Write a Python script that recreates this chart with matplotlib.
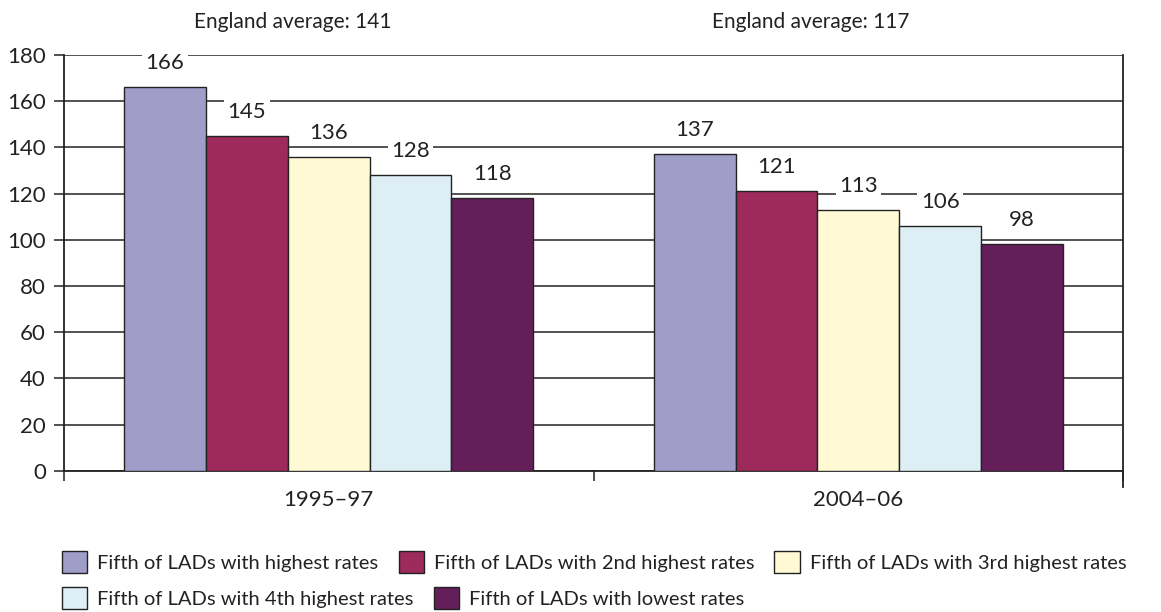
import numpy as np
import matplotlib
matplotlib.use('Agg')
import matplotlib.pyplot as plt
from matplotlib.patches import Patch

plt.rcParams['font.family'] = ['Lato', 'DejaVu Sans']

# Rates by fifth of local authority districts
periods = ['1995\u201397', '2004\u201306']
groups = ['Fifth of LADs with highest rates',
          'Fifth of LADs with 2nd highest rates',
          'Fifth of LADs with 3rd highest rates',
          'Fifth of LADs with 4th highest rates',
          'Fifth of LADs with lowest rates']
rates_1995 = [166, 145, 136, 128, 118]
rates_2004 = [137, 121, 113, 106, 98]
england_avg = [141, 117]

colours = ['#A09EC8', '#9C2A5B', '#FFF9D4', '#DDEEF5', '#641E5A']

fig = plt.figure(figsize=(11.61, 6.12), dpi=100)
ax = fig.add_axes([0.0551, 0.2309, 0.9122, 0.6792])

values = np.array([rates_1995, rates_2004])
x = np.arange(len(periods))
w = 0.1545
for i, g in enumerate(groups):
    bars = ax.bar(x + (i - 2) * w, values[:, i], w, color=colours[i],
                  edgecolor='#222222', linewidth=1.0, zorder=3, label=g)
    for b, v in zip(bars, values[:, i]):
        ax.annotate(f'{v}', (b.get_x() + b.get_width() / 2, v),
                    xytext=(0, 24), textcoords='offset pixels',
                    ha='center', va='center', fontsize=16, color='#222222',
                    zorder=4,
                    bbox=dict(boxstyle='square,pad=0.15', fc='white', ec='none'))

ax.set_xlim(-0.5, 1.5)
ax.set_ylim(0, 180)
ax.set_yticks(np.arange(0, 181, 20))
ax.yaxis.grid(True, color='#444444', linewidth=1.3, zorder=0)
ax.set_axisbelow(True)

# boundary ticks between periods, labels centred under each group
ax.set_xticks([-0.5, 0.5, 1.5])
ax.set_xticklabels([])
ax.set_xticks(x, minor=True)
ax.set_xticklabels(periods, minor=True)
ax.tick_params(axis='x', which='major', length=7, width=1.2, color='#333333')
ax.tick_params(axis='x', which='minor', length=0, pad=14, labelsize=16,
               labelcolor='#222222')
ax.tick_params(axis='y', length=7, width=1.2, color='#333333', labelsize=16,
               labelcolor='#222222', pad=6)

ax.spines['top'].set_visible(False)
for s in ['left', 'right', 'bottom']:
    ax.spines[s].set_color('#222222')
    ax.spines[s].set_linewidth(1.3)
ax.spines['right'].set_bounds(-7, 180)

fig.text(293 / 1161, 1 - 22 / 612, f'England average: {england_avg[0]}',
         ha='center', va='center', fontsize=15, color='#222222')
fig.text(811 / 1161, 1 - 22 / 612, f'England average: {england_avg[1]}',
         ha='center', va='center', fontsize=15, color='#222222')

# legend on two rows
handles = [Patch(facecolor=c, edgecolor='#222222', linewidth=1.0) for c in colours]
leg_kw = dict(frameon=False, fontsize=14.5, handlelength=1.25, handleheight=1.35,
              handletextpad=0.5, columnspacing=1.0, labelcolor='#222222',
              borderpad=0, borderaxespad=0)
fig.legend(handles[:3], groups[:3], ncol=3, loc='center left',
           bbox_to_anchor=(62 / 1161, 1 - 562 / 612), **leg_kw)
fig.legend(handles[3:], groups[3:], ncol=2, loc='center left',
           bbox_to_anchor=(62 / 1161, 1 - 598 / 612), **leg_kw)

fig.savefig('out.png', dpi=100)
